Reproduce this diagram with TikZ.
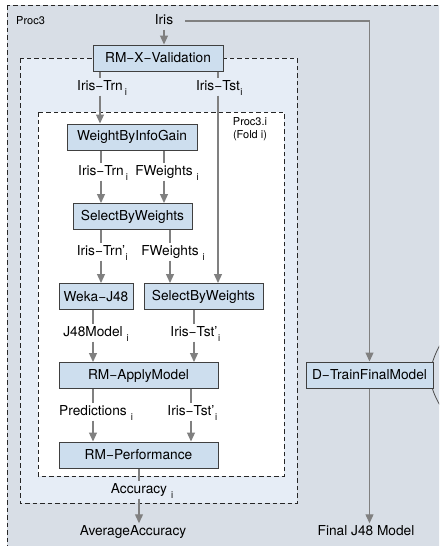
\documentclass[tikz,border=0pt]{standalone}
\usepackage{fontspec}
\setmainfont{TeX Gyre Heros}
\usepackage{tikz}
\usetikzlibrary{arrows.meta,positioning}
\definecolor{procbg}{RGB}{216,222,230}
\definecolor{foldbg}{RGB}{230,237,246}
\definecolor{opfill}{RGB}{205,222,238}
\definecolor{flowgray}{RGB}{128,128,128}
\tikzstyle{Aproc}=[draw=black!85,dash pattern=on 4.5pt off 3pt,line width=1pt]
\tikzstyle{Aop}=[draw=black!75,line width=1pt,fill=opfill,minimum height=26pt,inner sep=0pt,font=\fontsize{13.7}{16}\selectfont]
\tikzstyle{Adata}=[inner sep=2pt,text height=10pt,text depth=3pt,font=\fontsize{13.7}{16}\selectfont]
\tikzstyle{Anote}=[inner sep=2pt,font=\fontsize{11}{12.5}\selectfont]
\tikzstyle{Aline}=[draw=flowgray,line width=1.2pt]
\tikzstyle{Aflow}=[Aline,-{Triangle[length=9pt,width=8pt]}]
\newcommand{\subi}[1]{\rlap{\hspace{#1}\raisebox{-4.5pt}{\fontsize{9.5}{10}\selectfont i}}}
\newcommand{\dlink}[3]{\draw[Aline] (#1.south -| #2) -- (#2.north); \draw[Aflow] (#2.south) -- (#2 |- #3.north);}
\begin{document}
\begin{tikzpicture}[x=1pt,y=-1pt]
  \useasboundingbox (0,0) rectangle (439,546);
  \clip (0,0) rectangle (439,546);
  \fill[white] (0,0) rectangle (439,546);
  % nested processes
  \draw[Aproc,fill=procbg] (7,5) rectangle (460,570);
  \draw[Aproc,fill=foldbg] (20,58) rectangle (297,503);
  \draw[Aproc,fill=white] (38,112) rectangle (284,476);
  \node[Anote,anchor=west] (proc3) at (14,21) {Proc3};
  \node[Anote,align=center] (fold) at (250,129) {Proc3.i\\(Fold i)};

  \node[Adata] (iris) at (164,21) {Iris};
  \node[Aop,minimum width=130pt] (rmx) at (158,58) {RM−X−Validation};
  \node[Adata] (trn) at (100,87) {Iris−Trn\subi{2pt}};
  \node[Adata] (tst) at (218,87) {Iris−Tst\subi{0.5pt}};
  \node[Aop,minimum width=130pt] (wbig) at (132,137) {WeightByInfoGain};
  \node[Adata] (trn2) at (101,172) {Iris−Trn\subi{2pt}};
  \node[Adata] (fw) at (164,172) {FWeights\subi{4pt}};
  \node[Aop,minimum width=119pt] (sbw) at (132.5,216.5) {SelectByWeights};
  \node[Adata] (trn3) at (101,252) {Iris−Trn’\subi{0.5pt}};
  \node[Adata] (fw2) at (170,252) {FWeights\subi{4pt}};
  \node[Aop,minimum width=74pt] (weka) at (96,296.5) {Weka−J48};
  \node[Aop,minimum width=119pt] (sbw2) at (203.5,296.5) {SelectByWeights};
  \node[Adata] (j48m) at (93,333) {J48Model\subi{4pt}};
  \node[Adata] (tst2) at (194,333) {Iris−Tst’\subi{0.5pt}};
  \node[Aop,minimum width=159pt] (apply) at (138.5,375.5) {RM−ApplyModel};
  \node[Adata] (pred) at (93,412) {Predictions\subi{4pt}};
  \node[Adata] (tst3) at (191,412) {Iris−Tst’\subi{0.5pt}};
  \node[Aop,minimum width=159pt] (perf) at (138.5,455) {RM−Performance};
  \node[Adata] (acc) at (139,490) {Accuracy\subi{4pt}};
  \node[Adata] (avg) at (133,532) {AverageAccuracy};

  \draw[black!70,line width=0.8pt] (441,343) .. controls (427,368) and (427,384) .. (441,407);
  \node[Aop,minimum width=127pt] (dtrain) at (369.5,375) {D−TrainFinalModel};
  \node[Adata] (final) at (366,532) {Final J48 Model};

  % data flow
  \draw[Aflow] (iris.south) -- (iris |- rmx.north);
  \draw[Aflow] ([xshift=10pt]iris.east) -| (dtrain.north);
  \dlink{rmx}{trn}{wbig}
  \dlink{rmx}{tst}{sbw2}
  \dlink{wbig}{trn2}{sbw}
  \dlink{wbig}{fw}{sbw}
  \dlink{sbw}{trn3}{weka}
  \dlink{sbw}{fw2}{sbw2}
  \dlink{weka}{j48m}{apply}
  \dlink{sbw2}{tst2}{apply}
  \dlink{apply}{pred}{perf}
  \dlink{apply}{tst3}{perf}
  \dlink{perf}{acc}{avg}
  \draw[Aflow] (dtrain.south) -- (dtrain.south |- final.north);
\end{tikzpicture}
\end{document}
